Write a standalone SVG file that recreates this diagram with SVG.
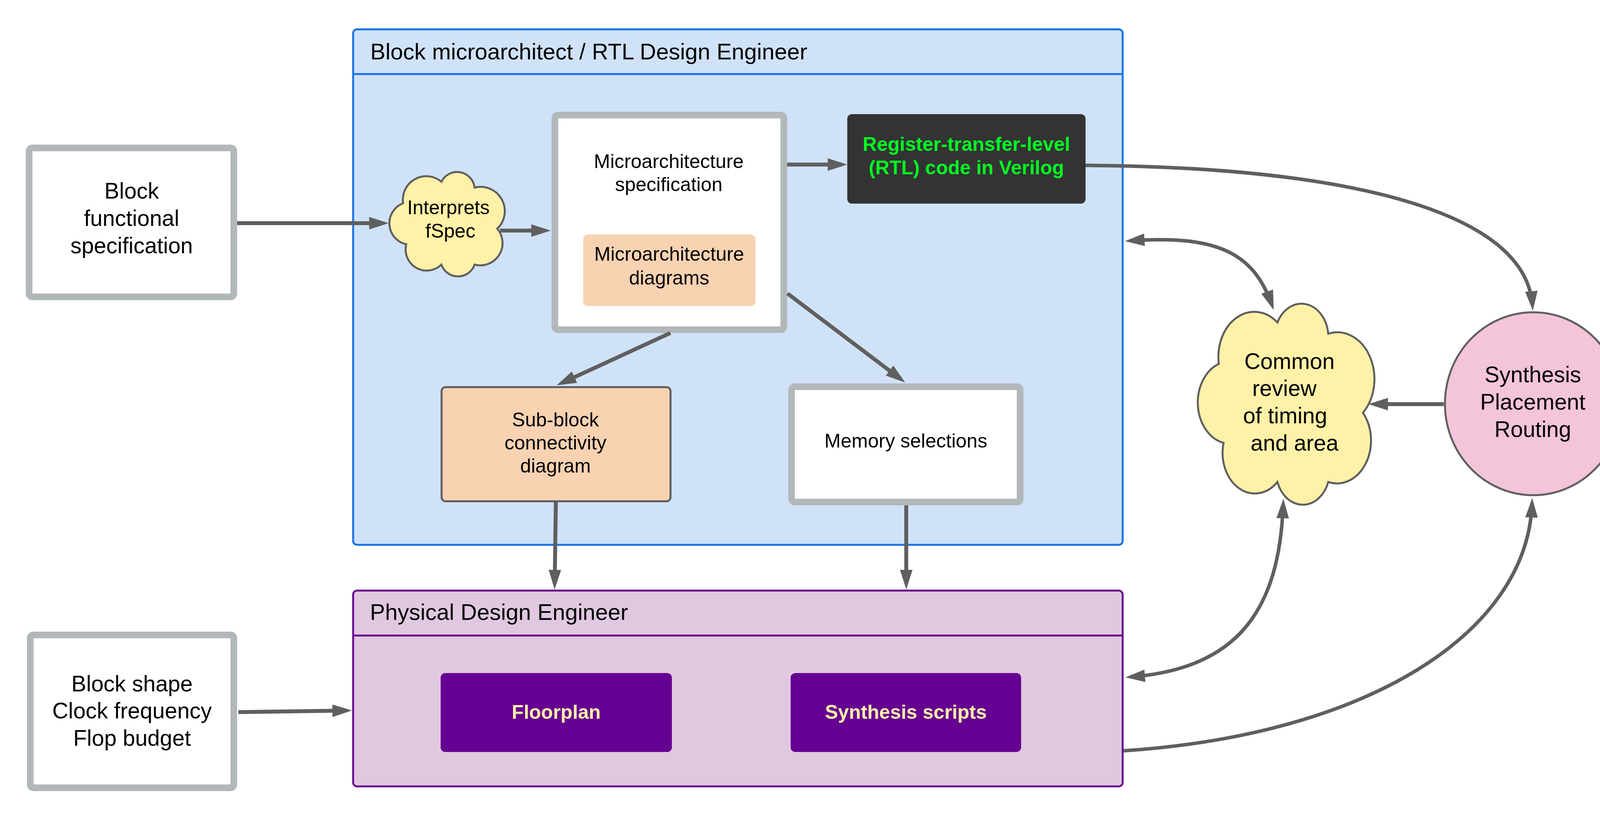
<svg xmlns="http://www.w3.org/2000/svg" width="4929" height="2098" viewBox="0 0 4929 2098">
<style>
  .t57 { font-family: "Liberation Sans", Arial, sans-serif; font-size: 57px; fill: #000000; text-anchor: middle; }
  .t50 { font-family: "Liberation Sans", Arial, sans-serif; font-size: 50px; fill: #000000; text-anchor: middle; }
  .b50 { font-family: "Liberation Sans", Arial, sans-serif; font-size: 50px; font-weight: bold; text-anchor: middle; }
  .hdr { font-family: "Liberation Sans", Arial, sans-serif; font-size: 58px; fill: #000000; text-anchor: start; }
  .gray { fill: #ffffff; stroke: #b2b8b9; stroke-width: 17; }
  .cloud { fill: #fff1a8; stroke: #5f5f5f; stroke-width: 5; vector-effect: non-scaling-stroke; }
  .conn { fill: none; stroke: #5f5f5f; stroke-width: 10; marker-end: url(#ah); }
  .curve { fill: none; stroke: #5f5f5f; stroke-width: 9; }
  .purp { fill: #660092; }
  .ytxt { fill: #fff2a8; }
</style>
<defs>
  <marker id="ah" markerUnits="userSpaceOnUse" markerWidth="52" markerHeight="34" refX="36" refY="16" viewBox="0 0 52 34" orient="auto-start-reverse" overflow="visible">
    <path d="M0,0 L50,16 L0,32 Z" fill="#5f5f5f"/>
  </marker>
</defs>
<rect x="0" y="0" width="4929" height="2098" fill="#ffffff"/>

<g id="container-rtl">
  <rect x="904" y="75" width="1970" height="1319" rx="10" fill="#cfe2f8" stroke="#1a73e8" stroke-width="5"/>
  <line x1="904" y1="189.5" x2="2874" y2="189.5" stroke="#1a73e8" stroke-width="5"/>
  <text class="hdr" x="948" y="152">Block microarchitect / RTL Design Engineer</text>
</g>

<g id="container-pd">
  <rect x="904" y="1511" width="1970" height="501" rx="10" fill="#e0c9e0" stroke="#6a0d91" stroke-width="5"/>
  <line x1="904" y1="1626" x2="2874" y2="1626" stroke="#6a0d91" stroke-width="5"/>
  <text class="hdr" x="947" y="1586">Physical Design Engineer</text>
</g>

<g id="block-functional-spec">
  <rect class="gray" x="74.5" y="378.5" width="524" height="381" rx="8"/>
  <text class="t57" x="337" y="508">Block</text>
  <text class="t57" x="337" y="578">functional</text>
  <text class="t57" x="337" y="648">specification</text>
</g>

<g id="block-shape">
  <rect class="gray" x="77.5" y="1624.5" width="521" height="391" rx="8"/>
  <text class="t57" x="338" y="1769">Block shape</text>
  <text class="t57" x="338" y="1838">Clock frequency</text>
  <text class="t57" x="338" y="1908">Flop budget</text>
</g>

<g id="interprets-fspec">
  <path class="cloud" transform="translate(996,439)" d="M134,26 A45,45 0 0 1 219,41 A62,62 0 0 1 277,146 A57,57 0 0 1 219,238 A45,45 0 0 1 134,238 A54,54 0 0 1 44,186 A55,55 0 0 1 36,81 A60,60 0 0 1 134,26 Z"/>
  <text class="t50" x="1148" y="548">Interprets</text>
  <text class="t50" x="1153" y="608">fSpec</text>
</g>

<g id="microarch-spec">
  <rect class="gray" x="1420.5" y="294.5" width="586" height="549" rx="8"/>
  <text class="t50" x="1712" y="430">Microarchitecture</text>
  <text class="t50" x="1712" y="489">specification</text>
</g>

<g id="microarch-diagrams">
  <rect x="1493" y="600" width="441" height="183" rx="12" fill="#f9d2b2"/>
  <text class="t50" x="1713" y="667">Microarchitecture</text>
  <text class="t50" x="1713" y="728">diagrams</text>
</g>

<g id="rtl-code">
  <rect x="2169" y="292" width="610" height="229" rx="12" fill="#333333"/>
  <text class="b50" x="2474" y="386" fill="#00ff22">Register-transfer-level</text>
  <text class="b50" x="2474" y="446" fill="#00ff22">(RTL) code in Verilog</text>
</g>

<g id="sub-block">
  <rect x="1130.5" y="990.5" width="586" height="292" rx="10" fill="#f9d2b2" stroke="#5f5f5f" stroke-width="5"/>
  <text class="t50" x="1422" y="1091">Sub-block</text>
  <text class="t50" x="1422" y="1150">connectivity</text>
  <text class="t50" x="1422" y="1209">diagram</text>
</g>

<g id="memory-selections">
  <rect class="gray" x="2026.5" y="989.5" width="585" height="295" rx="8"/>
  <text class="t50" x="2319" y="1145">Memory selections</text>
</g>

<g id="floorplan">
  <rect class="purp" x="1128" y="1722" width="592" height="202" rx="12"/>
  <text class="b50 ytxt" x="1424" y="1839">Floorplan</text>
</g>

<g id="synthesis-scripts">
  <rect class="purp" x="2024" y="1722" width="590" height="202" rx="12"/>
  <text class="b50 ytxt" x="2319" y="1839">Synthesis scripts</text>
</g>

<g id="common-review">
  <path class="cloud" transform="translate(3065,775) scale(1.531,1.925)" d="M134,26 A45,45 0 0 1 219,41 A62,62 0 0 1 277,146 A57,57 0 0 1 219,238 A45,45 0 0 1 134,238 A54,54 0 0 1 44,186 A55,55 0 0 1 36,81 A60,60 0 0 1 134,26 Z"/>
  <text class="t57" x="3301" y="944">Common</text>
  <text class="t57" x="3288" y="1013">review</text>
  <text class="t57" x="3290" y="1083">of timing</text>
  <text class="t57" x="3314" y="1153">and area</text>
</g>

<g id="synthesis-pnr">
  <ellipse cx="3925" cy="1033" rx="226" ry="234" fill="#f4c4da" stroke="#5f5f5f" stroke-width="5"/>
  <text class="t57" x="3924" y="978">Synthesis</text>
  <text class="t57" x="3924" y="1048">Placement</text>
  <text class="t57" x="3924" y="1118">Routing</text>
</g>

<g id="netlist">
  <rect class="purp" x="4393" y="885" width="460" height="299" rx="10"/>
  <text class="b50 ytxt" x="4623" y="988">The netlist for</text>
  <text class="b50 ytxt" x="4623" y="1048">the whole chip</text>
  <text class="b50 ytxt" x="4623" y="1108">integration</text>
</g>

<g id="connectors">
  <path class="conn" d="M607,571 L981,571"/>
  <path class="conn" d="M1280,590 L1396,590"/>
  <path class="conn" d="M2015,421 L2155,421"/>
  <path class="conn" d="M1716,852 L1438,980"/>
  <path class="conn" d="M2016,751 L2306,970"/>
  <path class="conn" d="M1423,1285 L1420,1494"/>
  <path class="conn" d="M2320,1293 L2320,1494"/>
  <path class="conn" d="M610,1822 L887,1818"/>
  <path class="conn" d="M3696,1034 L3517,1034"/>
  <path class="conn" d="M4154,1034 L4377,1034"/>
  <path class="curve" marker-end="url(#ah)" d="M2779,423 C3450,428 3905,540 3923,781"/>
  <path class="curve" marker-start="url(#ah)" marker-end="url(#ah)" d="M2894,616 C3120,600 3210,650 3256,780"/>
  <path class="curve" marker-start="url(#ah)" marker-end="url(#ah)" d="M3285,1290 C3275,1560 3170,1710 2895,1732"/>
  <path class="curve" marker-end="url(#ah)" d="M2876,1921 C3500,1880 3910,1620 3922,1288"/>
</g>
</svg>
